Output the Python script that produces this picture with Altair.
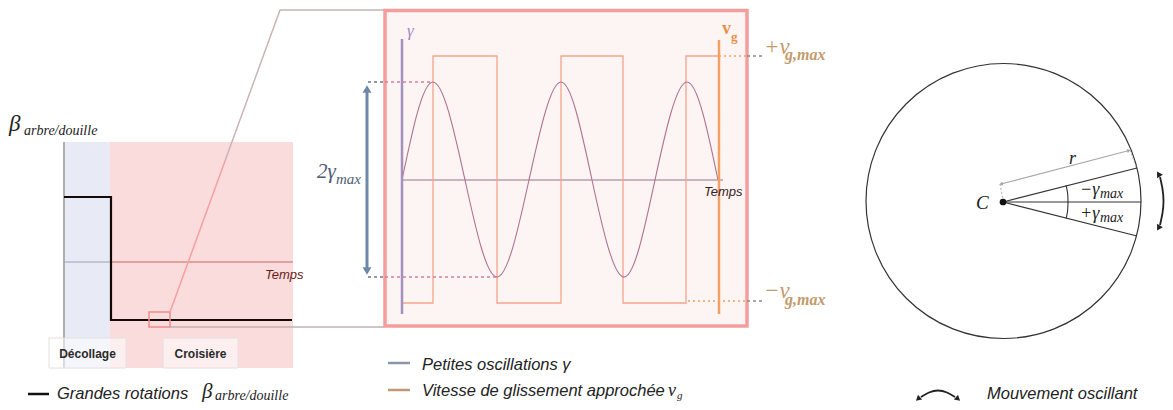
import altair as alt
import pandas as pd

W, H = 1157, 394
X0, Y0 = 8, 8
SANS = "Liberation Sans"
SERIF = "Liberation Serif"

# ---------------- left panel : large rotations ----------------
phase_names = ["Décollage", "Croisière"]
phase_band_x = [[63, 110], [110, 293]]
phase_band_colors = ["#e8eaf5", "#fbdcdc"]
band_y = [142, 368]
phase_label_box_x = [[49, 126], [163, 238]]
phase_label_y = [338, 368]
beta_step_x = [64, 111, 111, 292]
beta_step_y = [197, 197, 320, 320]

# ---------------- middle panel : small oscillations ----------------
# gamma(t): zero crossings and extrema
gamma_t = [402, 433, 465, 497, 529, 561, 592, 624, 655, 687, 718]
gamma_v = [180, 82, 180, 277, 180, 82, 180, 277, 180, 82, 180]
# approximated sliding velocity v_g (square wave)
vg_t = [402, 433, 433, 497, 497, 561, 561, 623, 623, 686, 686, 719]
vg_v = [303, 303, 56, 56, 303, 303, 56, 56, 303, 303, 56, 56]

# ---------------- right panel : oscillating motion ----------------
circle_center = [1003.5, 201]
circle_size = 75625
ray_end_x = [1141, 1137, 1137]
ray_end_y = [202, 168, 236]

layers = []
X = alt.X("x:Q", scale=alt.Scale(domain=[X0, X0 + W], nice=False, zero=False), axis=None)
Y = alt.Y("y:Q", scale=alt.Scale(domain=[Y0, Y0 + H], nice=False, zero=False, reverse=True), axis=None)


def line(xv, yv, color, width=1.0, dash=None, interp="linear", cap="butt"):
    df = pd.DataFrame({"x": xv, "y": yv, "o": list(range(len(xv)))})
    kw = dict(color=color, strokeWidth=width, interpolate=interp, strokeCap=cap)
    if dash:
        kw["strokeDash"] = dash
    layers.append(alt.Chart(df).mark_line(**kw).encode(x=X, y=Y, order="o:Q"))


def rect(x1, x2, y1, y2, fill=None, stroke=None, sw=1.0, fo=1.0):
    df = pd.DataFrame({"x": [x1], "x2": [x2], "y": [y1], "y2": [y2]})
    kw = dict(strokeWidth=sw)
    kw["fill"] = fill if fill else "transparent"
    kw["fillOpacity"] = fo
    if stroke:
        kw["stroke"] = stroke
    layers.append(alt.Chart(df).mark_rect(**kw).encode(x=X, x2="x2:Q", y=Y, y2="y2:Q"))


def text(x, y, s, size, color="#222222", font=SANS, style="normal", weight="normal", align="left"):
    df = pd.DataFrame({"x": [x], "y": [y], "t": [s]})
    layers.append(alt.Chart(df).mark_text(align=align, baseline="alphabetic", fontSize=size,
                                          font=font, fontStyle=style, fontWeight=weight,
                                          color=color).encode(x=X, y=Y, text="t:N"))


def head(x, y, angle, color, size=40):
    df = pd.DataFrame({"x": [x], "y": [y]})
    layers.append(alt.Chart(df).mark_point(shape="triangle-up", filled=True, color=color,
                                           size=size, angle=angle, opacity=1).encode(x=X, y=Y))


# ---- left panel
for (xa, xb), c in zip(phase_band_x, phase_band_colors):
    rect(xa, xb, band_y[0], band_y[1], fill=c)
line([64, 64], band_y, "#9a9a9a", 1.5)
line([64, 110], [262, 262], "#9aa0b8", 1)
line([110, 293], [262, 262], "#c86464", 1)
line(beta_step_x, beta_step_y, "#150808", 2.2)
text(265, 279, "Temps", 13, "#6a1a1a", style="italic")
rect(149, 170, 312, 327, stroke="#f08a8a", sw=1.5)
# zoom connectors
line([170, 384], [327, 327], "#bdb3b3", 1.5)
line([170, 225], [312, 161], "#f4a0a0", 1.5)
line([225, 280, 384], [161, 10, 10], "#c8b4b4", 1.5)
for name, (xa, xb) in zip(phase_names, phase_label_box_x):
    rect(xa, xb, phase_label_y[0], phase_label_y[1], fill="#ffffff", fo=0.55, stroke="#e6dede", sw=1)
    text((xa + xb) / 2, 358, name, 12, "#2a2a2a", weight="bold", align="center")
text(9, 131, "β", 23, "#222222", font=SERIF, style="italic")
text(24, 135, "arbre/douille", 14, "#222222", font=SERIF, style="italic")
# legend left
line([28, 49], [394, 394], "#111111", 2.5)
text(57, 399, "Grandes rotations", 16.5, "#222222", style="italic")
text(202, 398, "β", 21, "#222222", font=SERIF, style="italic")
text(215, 400, "arbre/douille", 14, "#222222", font=SERIF, style="italic")

# ---- middle panel
rect(385, 747, 10.5, 326, fill="#fdf4f4", stroke="#f59c9c", sw=3.5)
line([402, 723], [180, 180], "#9a7090", 1)
line(vg_t, vg_v, "#f6a48c", 1.3)
line(gamma_t, gamma_v, "#b07090", 1.1, interp="natural")
line([402, 402], [39, 314], "#a390c0", 2.5)
line([719, 719], [40, 314], "#f4a060", 2.5)
# dotted references for 2*gamma_max
line([368, 385], [82, 82], "#6a7890", 1.5, dash=[3, 3])
line([385, 433], [82, 82], "#d080a0", 1.3, dash=[3, 3])
line([368, 385], [277, 277], "#6a7890", 1.5, dash=[3, 3])
line([385, 497], [277, 277], "#d080a0", 1.3, dash=[3, 3])
line([367, 367], [92, 268], "#7088a8", 3)
head(367, 89, 0, "#7088a8", 80)
head(367, 271, 180, "#7088a8", 80)
text(317, 178, "2γ", 21, "#4e5c74", font=SERIF, style="italic")
text(336, 184, "max", 15, "#4e5c74", font=SERIF, style="italic")
text(407, 36, "γ", 17, "#a088c0", font=SERIF, style="italic")
text(722, 34, "v", 18, "#e8904a", font=SERIF, weight="bold")
text(731, 41, "g", 13, "#e8904a", font=SERIF, weight="bold")
text(704, 196, "Temps", 13, "#3a2222", style="italic")
# +/- v_g,max references
line([719, 747], [56, 56], "#f0a060", 1.5, dash=[2, 3])
line([747, 762], [56, 56], "#8a8a8a", 1.5, dash=[3, 3])
line([688, 747], [301, 301], "#f0a060", 1.5, dash=[2, 3])
line([747, 762], [301, 301], "#8a8a8a", 1.5, dash=[3, 3])
text(764, 54, "+v", 23, "#c49a6c", font=SERIF, style="italic")
text(785, 60, "g,max", 16, "#c49a6c", font=SERIF, style="italic", weight="bold")
text(764, 298, "−v", 23, "#c49a6c", font=SERIF, style="italic")
text(785, 305, "g,max", 16, "#c49a6c", font=SERIF, style="italic", weight="bold")
# legend middle
line([388, 410], [363, 363], "#8a94aa", 2.5)
text(422, 370, "Petites oscillations γ", 16.5, "#222222", style="italic")
line([388, 410], [390, 390], "#c09878", 2.5)
text(422, 396, "Vitesse de glissement approchée", 16.5, "#222222", style="italic")
text(668, 396, "v", 18, "#222222", font=SERIF, style="italic")
text(677, 399, "g", 11, "#222222", font=SERIF, style="italic")

# ---- right panel
cdf = pd.DataFrame({"x": [circle_center[0]], "y": [circle_center[1]]})
layers.append(alt.Chart(cdf).mark_point(shape="circle", filled=False, size=circle_size,
                                        color="#333333", strokeWidth=1.2, opacity=1).encode(x=X, y=Y))
for ex, ey in zip(ray_end_x, ray_end_y):
    line([1003, ex], [202, ey], "#333333", 1.2)
line([1001, 1129], [184, 150.5], "#a8a8a8", 1.2)
head(1001, 184, 255, "#a8a8a8", 18)
head(1129, 150.5, 75, "#a8a8a8", 18)
line([1000, 1003], [184, 200], "#b0b0b0", 1, dash=[2, 2])
line([1130, 1136], [150, 167], "#b0b0b0", 1, dash=[2, 2])
line([1066.1, 1067.6, 1068], [185.3, 193.1, 202], "#333333", 1.1, interp="natural")
line([1068, 1067.6, 1066.1], [202, 210.9, 218.7], "#333333", 1.1, interp="natural")
cd = pd.DataFrame({"x": [1003], "y": [202]})
layers.append(alt.Chart(cd).mark_point(shape="circle", filled=True, size=45, color="#111111",
                                       opacity=1).encode(x=X, y=Y))
text(976, 209, "C", 19, "#222222", font=SERIF, style="italic")
text(1069, 164, "r", 18, "#222222", font=SERIF, style="italic")
text(1080, 195, "−γ", 18, "#222222", font=SERIF, style="italic")
text(1100, 198, "max", 14, "#222222", font=SERIF, style="italic")
text(1080, 219, "+γ", 18, "#222222", font=SERIF, style="italic")
text(1100, 222, "max", 14, "#222222", font=SERIF, style="italic")
# oscillating-motion arrow
line([1160, 1162.5, 1163.5, 1162.5, 1160], [177, 189, 201, 213, 225], "#222222", 1.8, interp="natural")
head(1158.5, 174, 330, "#222222", 45)
head(1158.5, 228, 210, "#222222", 45)
# legend right
line([921, 929, 938, 947, 955], [397, 392.5, 390.5, 392.5, 397], "#222222", 1.8, interp="natural")
head(918, 399, 229, "#222222", 40)
head(958, 399, 131, "#222222", 40)
text(987, 399, "Mouvement oscillant", 16.5, "#222222", style="italic")

chart = alt.layer(*layers).properties(width=W, height=H, padding=0, autosize="none",
                                      background="#ffffff").configure_view(stroke=None)
chart.save("out.html", embed_options={"renderer": "svg", "actions": False})
